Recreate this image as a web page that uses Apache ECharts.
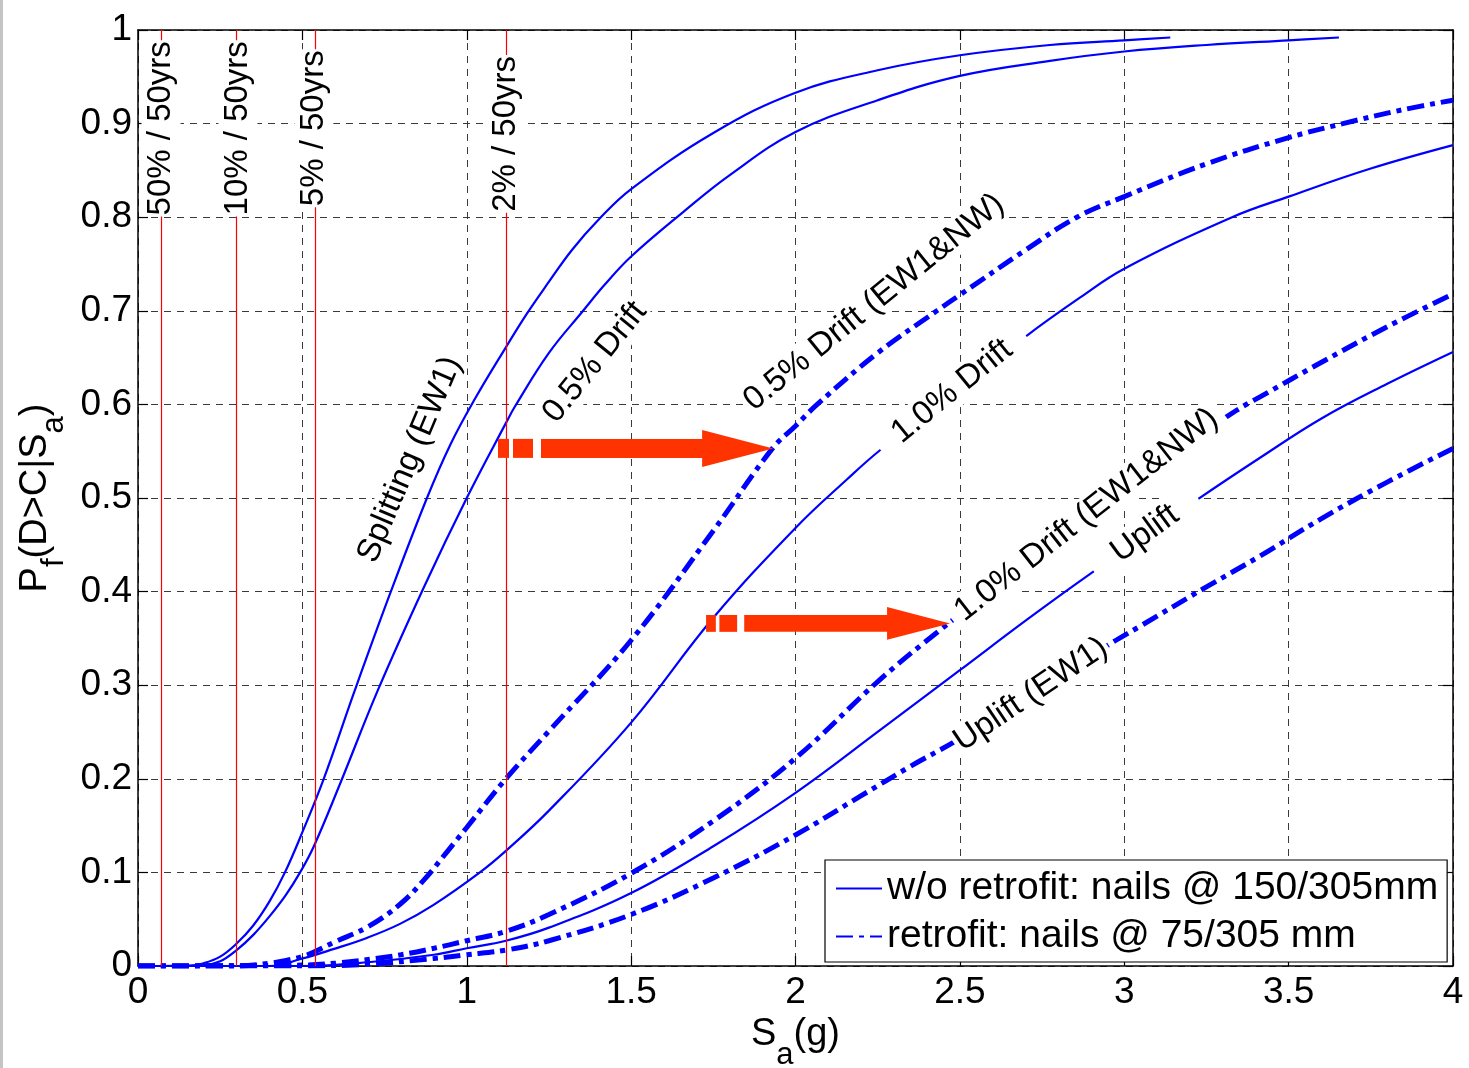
<!DOCTYPE html>
<html><head><meta charset="utf-8">
<script src="https://cdn.jsdelivr.net/npm/echarts@6/dist/echarts.min.js"></script>
<style>html,body{margin:0;padding:0;background:#fff}#c{width:1469px;height:1068px}</style>
</head><body><div id="c"></div>
<script>
// ---------- data ----------
const xTicks = [0, 0.5, 1, 1.5, 2, 2.5, 3, 3.5, 4];
const yTicks = [0, 0.1, 0.2, 0.3, 0.4, 0.5, 0.6, 0.7, 0.8, 0.9, 1];
const legendNames = ['w/o retrofit: nails @ 150/305mm', 'retrofit: nails @ 75/305 mm'];

// w/o retrofit (solid)
const splitEW1 = [[0,0],[0.15,0],[0.2,0.003],[0.25,0.01],[0.3,0.024],[0.35,0.043],[0.4,0.069],[0.447,0.1],[0.5,0.143],[0.565,0.2],[0.66,0.295],[0.767,0.398],[0.879,0.5],[0.95,0.557],[1.025,0.606],[1.119,0.661],[1.183,0.697],[1.248,0.73],[1.32,0.765],[1.4,0.797],[1.5,0.83],[1.75,0.89],[2.0,0.933],[2.25,0.957],[2.5,0.973],[2.774,0.984],[3.0,0.989],[3.14,0.992]];
const drift05 = [[0,0],[0.2,0.001],[0.25,0.005],[0.3,0.017],[0.35,0.033],[0.4,0.053],[0.45,0.076],[0.493,0.1],[0.535,0.128],[0.615,0.195],[0.73,0.295],[0.87,0.405],[1.0,0.5],[1.119,0.58],[1.147,0.598],[1.25,0.655],[1.354,0.7],[1.42,0.728],[1.5,0.758],[1.66,0.806],[1.8,0.845],[2.0,0.891],[2.25,0.925],[2.5,0.951],[2.774,0.967],[3.0,0.977],[3.25,0.984],[3.5,0.989],[3.653,0.992]];
const drift10 = [[0,0],[0.4,0],[0.5,0.008],[0.594,0.018],[0.696,0.03],[0.797,0.045],[0.898,0.065],[1.04,0.1],[1.119,0.123],[1.25,0.166],[1.5,0.26],[1.75,0.372],[2.0,0.468],[2.157,0.52],[2.257,0.551],[2.5,0.617],[2.698,0.672],[2.865,0.714],[3.0,0.745],[3.328,0.8],[3.5,0.822],[3.75,0.852],[4.0,0.877]];
const uplift = [[0,0],[0.5,0],[0.7,0.004],[0.9,0.012],[1.0,0.019],[1.119,0.027],[1.25,0.041],[1.5,0.078],[1.75,0.128],[2.0,0.185],[2.257,0.252],[2.5,0.316],[2.704,0.37],[2.905,0.421],[3.221,0.498],[3.413,0.543],[3.6,0.585],[3.8,0.622],[4.0,0.656]];

// retrofit (dash-dot)
const drift05Ret = [[0,0],[0.3,0],[0.4,0.003],[0.45,0.006],[0.5,0.01],[0.53,0.014],[0.594,0.025],[0.7,0.042],[0.797,0.066],[0.87,0.092],[0.94,0.122],[1.0,0.148],[1.119,0.2],[1.25,0.251],[1.5,0.348],[1.75,0.465],[1.93,0.553],[2.0,0.577],[2.066,0.6],[2.25,0.655],[2.43,0.7],[2.5,0.717],[2.7,0.765],[2.856,0.8],[3.0,0.822],[3.25,0.857],[3.5,0.885],[3.665,0.9],[3.85,0.915],[4.0,0.925]];
const drift10Ret = [[0,0],[0.5,0.001],[0.6,0.003],[0.7,0.007],[0.8,0.012],[0.9,0.019],[1.0,0.027],[1.119,0.037],[1.25,0.055],[1.5,0.099],[1.75,0.155],[2.0,0.222],[2.257,0.306],[2.44,0.359],[2.6,0.402],[2.8,0.455],[3.0,0.507],[3.2,0.56],[3.343,0.594],[3.413,0.608],[3.6,0.645],[3.8,0.683],[4.0,0.718]];
const upliftRet = [[0,0],[0.5,0],[0.7,0.002],[0.9,0.008],[1.0,0.012],[1.119,0.017],[1.25,0.027],[1.5,0.055],[1.75,0.094],[2.0,0.14],[2.2,0.182],[2.348,0.213],[2.49,0.241],[2.7,0.287],[2.947,0.342],[3.048,0.363],[3.25,0.405],[3.413,0.438],[3.6,0.478],[3.8,0.517],[4.0,0.553]];

// hazard levels (vertical red lines)
const hazardX = [0.07, 0.304, 0.535, 1.119];
const hazardText = ['50% / 50yrs', '10% / 50yrs', '5% / 50yrs', '2% / 50yrs'];
const hazardLabelY = [0.895, 0.895, 0.895, 0.889];

// curve annotations
const annText = ['Splitting (EW1)', '0.5% Drift', '0.5% Drift (EW1&NW)', '1.0% Drift', '1.0% Drift (EW1&NW)', 'Uplift', 'Uplift (EW1)'];
const annX = [0.827, 1.39, 2.239, 2.476, 2.885, 3.063, 2.716];
const annY = [0.541, 0.645, 0.709, 0.614, 0.482, 0.462, 0.290];
const annRot = [67, 51, 39, 39, 38, 36, 34];
const annPad = [2, 2, 2, 20, 8, 26, 2];

// arrows: [x start, x tip, y]
const arrows = [[1.095, 1.932, 0.553], [1.728, 2.470, 0.366]];

// ---------- chart ----------
const FONT = '"Liberation Sans", Arial, Helvetica, sans-serif';
const BLUE = '#0000ff';
const chart = echarts.init(document.getElementById('c'), null, {renderer: 'canvas'});

const solidSeries = [splitEW1, drift05, drift10, uplift].map(d => ({
  type: 'line', name: legendNames[0], data: d, symbol: 'none', showSymbol: false,
  smooth: 0.4, z: 3, silent: true,
  lineStyle: {color: BLUE, width: 2.2, type: 'solid'}, itemStyle: {color: BLUE}
}));
const dashSeries = [drift05Ret, drift10Ret, upliftRet].map(d => ({
  type: 'line', name: legendNames[1], data: d, symbol: 'none', showSymbol: false,
  smooth: 0.4, z: 3, silent: true,
  lineStyle: {color: BLUE, width: 5, type: [17, 6, 5, 6], cap: 'butt'}, itemStyle: {color: BLUE}
}));

const hazardSeries = {
  type: 'line', name: 'hazard', data: [], z: 2, silent: true,
  markLine: {
    symbol: 'none', silent: true, animation: false,
    label: {show: false},
    lineStyle: {color: '#ff0000', width: 1.2, type: 'solid'},
    data: hazardX.map(v => ({xAxis: v}))
  }
};

const annItems = annText.map((t, i) => ({
  value: [annX[i], annY[i]],
  label: {rotate: annRot[i], formatter: t, padding: [1, annPad[i]]}
})).concat(hazardText.map((t, i) => ({
  value: [hazardX[i], hazardLabelY[i]],
  label: {rotate: 90, formatter: t, padding: [3, 1]}
})));

const annSeries = {
  type: 'scatter', name: 'ann', data: annItems, symbolSize: 1, z: 10, silent: true,
  itemStyle: {color: 'rgba(0,0,0,0)', opacity: 1},
  label: {show: true, position: 'inside', fontSize: 33, fontFamily: FONT, color: '#000',
          backgroundColor: '#fff', textBorderWidth: 0, opacity: 1}
};

function renderArrow(params, api) {
  const a = api.coord([api.value(0), api.value(2)]);
  const b = api.coord([api.value(1), api.value(2)]);
  const len = b[0] - a[0], cy = a[1], s = len / 275;
  const bh = 9.5 * s, hh = 18.5 * s, hs = b[0] - len * 0.258;
  const fill = '#ff3300';
  return {type: 'group', children: [
    {type: 'rect', shape: {x: a[0], y: cy - bh, width: 11 * s, height: 2 * bh}, style: {fill}},
    {type: 'rect', shape: {x: a[0] + 15 * s, y: cy - bh, width: 20 * s, height: 2 * bh}, style: {fill}},
    {type: 'rect', shape: {x: a[0] + 43 * s, y: cy - bh, width: hs - a[0] - 43 * s + 1, height: 2 * bh}, style: {fill}},
    {type: 'polygon', shape: {points: [[hs, cy - hh], [b[0], cy], [hs, cy + hh]]}, style: {fill}}
  ]};
}
const arrowSeries = {
  type: 'custom', name: 'arrows', data: arrows, renderItem: renderArrow, z: 5, silent: true,
  encode: {x: [0, 1], y: 2}
};

const axisCommon = {
  axisLine: {show: true, onZero: false, lineStyle: {color: '#000', width: 1.5}},
  axisTick: {show: true, inside: true, length: 10, lineStyle: {color: '#000', width: 1.2}},
};
const gridLine = {show: true, lineStyle: {color: '#3a3a3a', width: 1, type: [7, 6]}};

const option = {
  animation: false,
  backgroundColor: '#fff',
  textStyle: {fontFamily: FONT},
  grid: {left: 138, right: 16, top: 30, bottom: 102, outerBoundsMode: 'none', containLabel: false},
  legend: {
    show: true, data: legendNames, orient: 'vertical', left: 825, top: 860,
    backgroundColor: '#fff', borderColor: '#000', borderWidth: 1.2, borderRadius: 0,
    padding: [5, 9, 2, 10], itemGap: 1, itemWidth: 46, itemHeight: 14,
    selectedMode: false, z: 20,
    itemStyle: {opacity: 0},
    textStyle: {fontSize: 39, color: '#000', fontFamily: FONT, lineHeight: 47}
  },
  xAxis: [
    Object.assign({
      type: 'value', position: 'bottom', min: xTicks[0], max: xTicks[xTicks.length - 1],
      interval: xTicks[1] - xTicks[0],
      axisLabel: {show: true, fontSize: 37, color: '#000', fontFamily: FONT, margin: 8},
      splitLine: gridLine,
      name: '{n|S}{s|a}{n|(g)}', nameLocation: 'middle', nameGap: 45,
      nameTextStyle: {color: '#000', fontFamily: FONT, rich: {
        n: {fontSize: 38, lineHeight: 40, verticalAlign: 'top', fontFamily: FONT, color: '#000'},
        s: {fontSize: 31, lineHeight: 31, padding: [24, 0, 0, 0], verticalAlign: 'top', fontFamily: FONT, color: '#000'}
      }}
    }, axisCommon),
    Object.assign({
      type: 'value', position: 'top', min: xTicks[0], max: xTicks[xTicks.length - 1],
      interval: xTicks[1] - xTicks[0], axisLabel: {show: false}, splitLine: {show: false}
    }, axisCommon)
  ],
  yAxis: [
    Object.assign({
      type: 'value', position: 'left', min: yTicks[0], max: yTicks[yTicks.length - 1],
      interval: 0.1,
      axisLabel: {show: true, fontSize: 37, color: '#000', fontFamily: FONT, margin: 6},
      splitLine: gridLine,
      name: '{n|P}{s|f}{n|(D>C|S}{s|a}{n|)}', nameLocation: 'middle', nameRotate: 90, nameGap: 70,
      nameTextStyle: {color: '#000', fontFamily: FONT, rich: {
        n: {fontSize: 38, lineHeight: 40, verticalAlign: 'top', fontFamily: FONT, color: '#000'},
        s: {fontSize: 31, lineHeight: 31, padding: [22, 0, 0, 0], verticalAlign: 'top', fontFamily: FONT, color: '#000'}
      }}
    }, axisCommon),
    Object.assign({
      type: 'value', position: 'right', min: yTicks[0], max: yTicks[yTicks.length - 1],
      interval: 0.1, axisLabel: {show: false}, splitLine: {show: false}
    }, axisCommon)
  ],
  graphic: [{type: 'rect', left: 0, top: 0, shape: {width: 3, height: 1068}, style: {fill: '#c4c4c4'}, silent: true}],
  series: [hazardSeries].concat(solidSeries, dashSeries, [arrowSeries, annSeries])
};
chart.setOption(option);
</script>
</body></html>
